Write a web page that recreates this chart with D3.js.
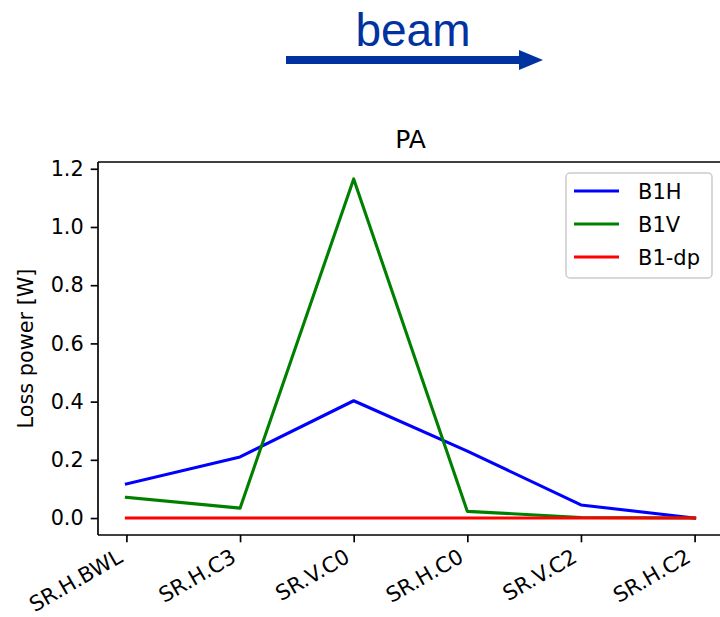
<!DOCTYPE html>
<html>
<head>
<meta charset="utf-8">
<script src="https://cdn.jsdelivr.net/npm/d3@7"></script>
<style>
  html, body { margin: 0; padding: 0; background: #fff; }
  svg { display: block; }
</style>
</head>
<body>
<svg id="chart" width="720" height="617"></svg>
<script>
// Collimator positions along the beam line
const categories = ["SR.H.BWL", "SR.H.C3", "SR.V.C0", "SR.H.C0", "SR.V.C2", "SR.H.C2"];
// Loss power per collimator [W]
const b1h  = [0.117, 0.210, 0.403, 0.230, 0.045, 0.000];
const b1v  = [0.071, 0.034, 1.165, 0.023, 0.002, 0.000];
const b1dp = [0.000, 0.000, 0.000, 0.000, 0.000, 0.000];
const yTicks = [0.0, 0.2, 0.4, 0.6, 0.8, 1.0, 1.2];

const series = [
  { name: "B1H",   values: b1h,  color: "#0000ff" },
  { name: "B1V",   values: b1v,  color: "#008000" },
  { name: "B1-dp", values: b1dp, color: "#ff0000" }
];

const svg = d3.select("#chart");
const font = "'DejaVu Sans', sans-serif";
const fs = 20.8;

const plot = { left: 98, top: 162, right: 723, bottom: 535 };

const x = d3.scaleLinear().domain([-0.25, categories.length - 1 + 0.25])
  .range([plot.left, plot.right]);
const yMax = d3.max(series, s => d3.max(s.values));
const yMin = d3.min(series, s => d3.min(s.values));
const pad = (yMax - yMin) * 0.05;
const y = d3.scaleLinear().domain([yMin - pad, yMax + pad])
  .range([plot.bottom, plot.top]);

// beam direction banner
const beam = svg.append("g");
beam.append("text")
  .attr("x", 413).attr("y", 46)
  .attr("text-anchor", "middle")
  .attr("font-family", "'Liberation Sans', Arial, sans-serif")
  .attr("font-size", 46)
  .attr("fill", "#0033a0")
  .text("beam");
beam.append("line")
  .attr("x1", 286).attr("x2", 522).attr("y1", 60).attr("y2", 60)
  .attr("stroke", "#0033a0").attr("stroke-width", 8);
beam.append("path")
  .attr("d", "M519,50 L543,60 L519,70 Z")
  .attr("fill", "#0033a0");

// title
svg.append("text")
  .attr("x", (plot.left + plot.right) / 2).attr("y", plot.top - 14)
  .attr("text-anchor", "middle")
  .attr("font-family", font).attr("font-size", 25)
  .attr("fill", "#000")
  .text("PA");

// y axis
const yAxis = d3.axisLeft(y).tickValues(yTicks)
  .tickFormat(d3.format(".1f")).tickSize(7.3).tickPadding(7);
const gy = svg.append("g").attr("transform", `translate(${plot.left},0)`).call(yAxis);
gy.select(".domain").remove();
gy.selectAll(".tick line").attr("stroke", "#000").attr("stroke-width", 1.67);
gy.selectAll(".tick text").attr("font-family", font).attr("font-size", fs).attr("fill", "#000");

svg.append("text")
  .attr("transform", `translate(33,${(plot.top + plot.bottom) / 2}) rotate(-90)`)
  .attr("text-anchor", "middle")
  .attr("font-family", font).attr("font-size", fs).attr("fill", "#000")
  .text("Loss power [W]");

// x axis
const xAxis = d3.axisBottom(x).tickValues(d3.range(categories.length))
  .tickFormat(i => categories[i]).tickSize(7.3);
const gx = svg.append("g").attr("transform", `translate(0,${plot.bottom})`).call(xAxis);
gx.select(".domain").remove();
gx.selectAll(".tick line").attr("stroke", "#000").attr("stroke-width", 1.67);
gx.selectAll(".tick text")
  .attr("font-family", font).attr("font-size", 21.2).attr("fill", "#000")
  .attr("text-anchor", "end")
  .attr("dy", null).attr("y", 0)
  .attr("transform", "translate(-3,26) rotate(-30)");

// lines
const line = d3.line().x((d, i) => x(i)).y(d => y(d));
svg.append("g").selectAll("path").data(series).join("path")
  .attr("d", s => line(s.values))
  .attr("fill", "none")
  .attr("stroke", s => s.color)
  .attr("stroke-width", 3.1)
  .attr("stroke-linejoin", "round")
  .attr("stroke-linecap", "square");

// spines
const spines = svg.append("g").attr("stroke", "#000").attr("stroke-width", 1.67).attr("fill", "none");
spines.append("line").attr("x1", plot.left).attr("x2", plot.left).attr("y1", plot.top).attr("y2", plot.bottom);
spines.append("line").attr("x1", plot.left).attr("x2", plot.right).attr("y1", plot.bottom).attr("y2", plot.bottom);
spines.append("line").attr("x1", plot.left).attr("x2", plot.right).attr("y1", plot.top).attr("y2", plot.top);
spines.append("line").attr("x1", plot.right).attr("x2", plot.right).attr("y1", plot.top).attr("y2", plot.bottom);

// legend
const lg = svg.append("g");
lg.append("rect")
  .attr("x", 566).attr("y", 173).attr("width", 146).attr("height", 105)
  .attr("rx", 4).attr("fill", "#fff").attr("fill-opacity", 0.8)
  .attr("stroke", "#cccccc").attr("stroke-width", 1.5);
series.forEach((s, i) => {
  const ly = 191 + i * 33;
  lg.append("line").attr("x1", 574).attr("x2", 619).attr("y1", ly).attr("y2", ly)
    .attr("stroke", s.color).attr("stroke-width", 3.1);
  lg.append("text").attr("x", 638).attr("y", ly + 7.5)
    .attr("font-family", font).attr("font-size", 21).attr("fill", "#000")
    .text(s.name);
});
</script>
</body>
</html>
